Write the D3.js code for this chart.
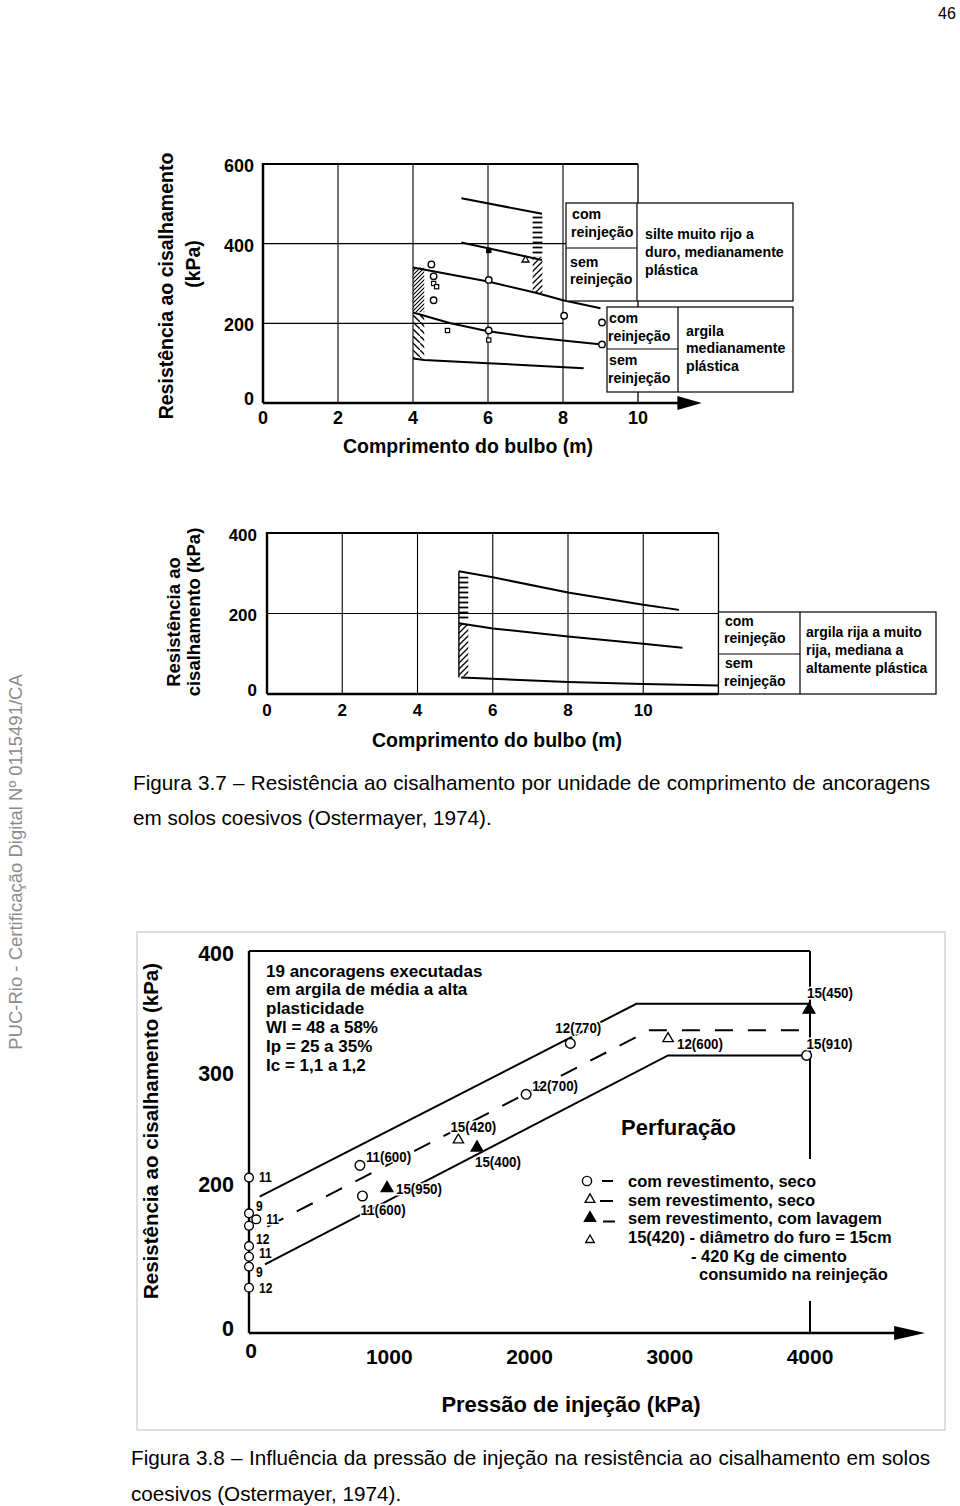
<!DOCTYPE html>
<html><head><meta charset="utf-8">
<script src="https://cdn.jsdelivr.net/npm/d3@7/dist/d3.min.js"></script>
<style>body{margin:0;background:#fff} svg{display:block;font-family:'Liberation Sans',Arial,Helvetica,sans-serif}</style>
</head><body><svg id="c" width="960" height="1506"></svg>
<script>
// ---------------- DATA ----------------
// Chart 1 (Figura 3.7 top)
const c1XTicks = [0,2,4,6,8,10];
const c1YTicks = [0,200,400,600];
const c1Curves = [
  [[5.29,514],[7.44,475]],
  [[5.29,403],[7.44,359]],
  [[4.0,340],[6,305],[7.3,276],[8,258],[9.0,238]],
  [[4.0,227],[5,200],[6,180],[7,167],[8,157],[9.04,147]],
  [[4.0,112],[4.3,108],[6,100],[8.55,87]]
];
const c1Hatches = [
  {x0:4.0,x1:4.3,y0:228,y1:340,kind:'dense'},
  {x0:4.0,x1:4.3,y0:112,y1:226,kind:'sparse'},
  {x0:7.19,x1:7.45,y0:368,y1:473,kind:'horiz'},
  {x0:7.19,x1:7.45,y0:276,y1:366,kind:'diag'}
];
const c1Points = [
  [4.49,348,'circle'],[4.55,318,'circle'],[4.55,300,'square'],[4.63,292,'square'],
  [4.55,258,'circle'],[4.92,182,'square'],[6.02,383,'filledSquare'],[7.0,359,'triangle'],
  [6.02,309,'circle'],[6.02,182,'circle'],[6.02,158,'square'],[8.03,219,'circle'],
  [9.04,202,'circle'],[9.04,147,'circle']
];
const rowLabels = [["com","reinjeção"],["sem","reinjeção"]];
const c1SoilA = ["silte muito rijo a","duro, medianamente","plástica"];
const c1SoilB = ["argila","medianamente","plástica"];
// Chart 2 (Figura 3.7 bottom)
const c2XTicks = [0,2,4,6,8,10];
const c2YTicks = [0,200,400];
const c2Curves = [
  [[5.1,305],[6,290],[8,252],[10,222],[10.95,209]],
  [[5.1,176],[6,163],[8,143],[10,125],[11.04,115]],
  [[5.16,41],[8,30],[10,25],[12,21]]
];
const c2Hatches = [
  {x0:5.1,x1:5.35,y0:184,y1:292,kind:'horiz'},
  {x0:5.1,x1:5.35,y0:44,y1:174,kind:'diag'}
];
const c2Soil = ["argila rija a muito","rija, mediana a","altamente plástica"];
// Chart 3 (Figura 3.8)
const c3XTicks = [0,1000,2000,3000,4000];
const c3YTicks = [0,200,300,400];
const c3Upper = [[76,180.5],[2762,356],[3993,356]];
const c3Dashed = [[131,141],[2857,334],[3976,334]];
const c3Lower = [[114,91],[2988,313],[3976,313]];
const c3Points = [
  {p:2291,r:323,sym:'circle',label:'12(770)',pos:'above'},
  {p:1976,r:279,sym:'circle',label:'12(700)',pos:'aboveRight'},
  {p:2988,r:327,sym:'triangle',label:'12(600)',pos:'right'},
  {p:3993,r:351,sym:'filledTriangle',label:'15(450)',pos:'aboveStart'},
  {p:3976,r:313,sym:'circle',label:'15(910)',pos:'aboveStart2'},
  {p:1493,r:238,sym:'triangle',label:'15(420)',pos:'aboveLeft'},
  {p:1626,r:231,sym:'filledTriangle',label:'15(400)',pos:'below'},
  {p:791,r:215,sym:'circle',label:'11(600)',pos:'aboveRight'},
  {p:809,r:181.5,sym:'circle',label:'11(600)',pos:'below'},
  {p:984,r:191.7,sym:'filledTriangle',label:'15(950)',pos:'rightMid'},
  {p:0,r:204,sym:'circle',label:'11',pos:'r'},
  {p:0,r:158.5,sym:'circle',label:'9',pos:'ur'},
  {p:52,r:150.6,sym:'circle',label:'11',pos:'r'},
  {p:0,r:142,sym:'circle',label:'',pos:'r'},
  {p:0,r:115,sym:'circle',label:'12',pos:'ur'},
  {p:0,r:101,sym:'circle',label:'11',pos:'rUp'},
  {p:0,r:88,sym:'circle',label:'9',pos:'dr'},
  {p:0,r:60,sym:'circle',label:'12',pos:'r'}
];
const c3Notes = ["19 ancoragens executadas","em argila de média a alta","plasticidade","Wl = 48 a 58%","Ip = 25 a 35%","Ic = 1,1 a 1,2"];
const c3LegendTitle = "Perfuração";
const c3Legend = [
  {sym:'circle',text:'com revestimento, seco'},
  {sym:'triangle',text:'sem revestimento, seco'},
  {sym:'filledTriangle',text:'sem revestimento, com lavagem'},
  {sym:'smallTriangle',text:'15(420) - diâmetro do furo = 15cm'}
];
const c3LegendMore = ["- 420 Kg de cimento","consumido na reinjeção"];
const caption1 = ["Figura 3.7 – Resistência ao cisalhamento por unidade de comprimento de ancoragens","em solos coesivos (Ostermayer, 1974)."];
const caption2 = ["Figura 3.8 – Influência da pressão de injeção na resistência ao cisalhamento em solos","coesivos (Ostermayer, 1974)."];
const watermark = "PUC-Rio - Certificação Digital Nº 0115491/CA";
const pageNumber = "46";

// ---------------- DRAW ----------------
const svg = d3.select('#c');
svg.append('rect').attr('width',960).attr('height',1506).attr('fill','#fff');
const defs = svg.append('defs');
function pat(id,w,h,d,sw){
  const p=defs.append('pattern').attr('id',id).attr('patternUnits','userSpaceOnUse').attr('width',w).attr('height',h);
  p.append('path').attr('d',d).attr('stroke','#000').attr('stroke-width',sw).attr('fill','none');
}
pat('dense',4,4,'M-1,1L1,-1M0,4L4,0M3,5L5,3',1.1);
pat('sparse',7,7,'M-1,-1L1,1M0,0L7,7M6,6L8,8',1.4);
pat('diag',6,6,'M-1,1L1,-1M0,6L6,0M5,7L7,5',1.3);
pat('horiz',12,5,'M0,2.5H12',1.8);

function T(parent,x,y,s,o={}){
  const t=parent.append('text').attr('x',x).attr('y',y).text(s)
    .attr('font-size',o.size||14).attr('font-weight',o.bold===false?'normal':'bold')
    .attr('text-anchor',o.anchor||'start').attr('dominant-baseline',o.base||'central')
    .attr('fill',o.fill||'#000');
  if(o.ls) t.attr('letter-spacing',o.ls);
  if(o.rot) t.attr('transform',`rotate(${o.rot},${x},${y})`);
  if(o.sx) t.attr('transform',`translate(${x},${y}) scale(${o.sx},1) translate(${-x},${-y})`);
  if(o.halo) t.attr('stroke','#fff').attr('stroke-width',o.halo).attr('paint-order','stroke').attr('stroke-linejoin','round');
  return t;
}
function L(parent,xa,ya,xb,yb,sw,extra){
  const l=parent.append('line').attr('x1',xa).attr('y1',ya).attr('x2',xb).attr('y2',yb).attr('stroke','#000').attr('stroke-width',sw||1);
  if(extra) l.attr('stroke-dasharray',extra);
  return l;
}
function sym(parent,cx,cy,kind,scale){
  const s=scale||1;
  if(kind==='circle') return parent.append('circle').attr('cx',cx).attr('cy',cy).attr('r',4.6*s).attr('fill','#fff').attr('stroke','#000').attr('stroke-width',1.4);
  if(kind==='square'||kind==='filledSquare') return parent.append('rect').attr('x',cx-3*s).attr('y',cy-3*s).attr('width',6*s).attr('height',6*s).attr('fill',kind==='square'?'#fff':'#000').attr('stroke','#000').attr('stroke-width',1.2);
  const sz = kind==='smallTriangle'?32:(kind==='filledTriangle'?55:42);
  return parent.append('path').attr('transform',`translate(${cx},${cy})`)
    .attr('d',d3.symbol().type(d3.symbolTriangle).size(sz*s*s)())
    .attr('fill',kind==='filledTriangle'?'#000':'#fff').attr('stroke','#000').attr('stroke-width',1.3);
}

// ===== Chart 1 =====
const x1=d3.scaleLinear().domain([0,10]).range([263,638]);
const y1=d3.scaleLinear().domain([0,600]).range([403,164]);
const g1=svg.append('g');
[2,4,6,8].forEach(v=>L(g1,x1(v),y1(600),x1(v),y1(0),1.1));
L(g1,x1(0),y1(400),x1(10),y1(400),1.1);
L(g1,x1(0),y1(200),x1(8),y1(200),1.1);
L(g1,x1(0),y1(600),x1(10),y1(600),2);
L(g1,x1(10),y1(600),x1(10),y1(0),1.3);
L(g1,x1(0),y1(600)-1,x1(0),y1(0),2.5);
L(g1,x1(0),y1(0),x1(11.2),y1(0),2.5);
g1.append('path').attr('d',`M${x1(11.05)},${y1(0)-7}L${x1(11.7)},${y1(0)}L${x1(11.05)},${y1(0)+7}Z`).attr('fill','#000');
c1Hatches.forEach(h=>g1.append('rect').attr('x',x1(h.x0)).attr('y',y1(h.y1)).attr('width',x1(h.x1)-x1(h.x0)).attr('height',y1(h.y0)-y1(h.y1)).attr('fill',`url(#${h.kind})`));
const line1=d3.line().x(d=>x1(d[0])).y(d=>y1(d[1]));
c1Curves.forEach(c=>g1.append('path').attr('d',line1(c)).attr('fill','none').attr('stroke','#000').attr('stroke-width',2));
c1Points.forEach(p=>sym(g1,x1(p[0]),y1(p[1]),p[2],0.7));
// boxes
function box(g,x0,y0,xm,ym,x2,y2){
  g.append('rect').attr('x',x0).attr('y',y0).attr('width',x2-x0).attr('height',y2-y0).attr('fill','#fff').attr('stroke','#000').attr('stroke-width',1.2);
  L(g,xm,y0,xm,y2,1.2); L(g,x0,ym,xm,ym,1.2);
}
box(g1,566,203,637,248,793,301);
T(g1,572,214,rowLabels[0][0],{size:14.2}); T(g1,571,232,rowLabels[0][1],{size:14.2});
T(g1,570,262,rowLabels[1][0],{size:14.2}); T(g1,570,279,rowLabels[1][1],{size:14.2});
c1SoilA.forEach((s,i)=>T(g1,645,234+i*18,s,{size:14.2}));
box(g1,607,307,678,349,793,392);
T(g1,609,318,rowLabels[0][0],{size:14.2}); T(g1,608,336,rowLabels[0][1],{size:14.2});
T(g1,609,360,rowLabels[1][0],{size:14.2}); T(g1,608,378,rowLabels[1][1],{size:14.2});
c1SoilB.forEach((s,i)=>T(g1,686,331+i*17.3,s,{size:14.2}));
// ticks
c1XTicks.forEach(v=>T(g1,x1(v),418,String(v),{size:18,anchor:'middle'}));
c1YTicks.forEach(v=>T(g1,254,y1(v)+(v===0?-4:2),String(v),{size:18,anchor:'end'}));
T(g1,468,446,"Comprimento do bulbo (m)",{size:19.5,anchor:'middle'});
T(g1,166,286,"Resistência ao cisalhamento",{size:19.5,anchor:'middle',rot:-90});
T(g1,193,264,"(kPa)",{size:19.5,anchor:'middle',rot:-90});

// ===== Chart 2 =====
const x2=d3.scaleLinear().domain([0,12]).range([267,718.5]);
const y2=d3.scaleLinear().domain([0,400]).range([694,533]);
const g2=svg.append('g');
[2,4,6,8,10].forEach(v=>L(g2,x2(v),y2(400),x2(v),y2(0),1.1));
L(g2,x2(0),y2(200),x2(12),y2(200),1.1);
L(g2,x2(0),y2(400),x2(12),y2(400),1.8);
L(g2,x2(12),y2(400),x2(12),y2(0),1.3);
L(g2,x2(0),y2(400)-1,x2(0),y2(0),2.4);
L(g2,x2(0),y2(0),x2(12),y2(0),2.4);
c2Hatches.forEach(h=>g2.append('rect').attr('x',x2(h.x0)).attr('y',y2(h.y1)).attr('width',x2(h.x1)-x2(h.x0)).attr('height',y2(h.y0)-y2(h.y1)).attr('fill',`url(#${h.kind})`));
L(g2,x2(5.1),y2(305),x2(5.1),y2(41),1.4);
const line2=d3.line().x(d=>x2(d[0])).y(d=>y2(d[1]));
c2Curves.forEach(c=>g2.append('path').attr('d',line2(c)).attr('fill','none').attr('stroke','#000').attr('stroke-width',2));
box(g2,718.5,612,800,654,936,694);
T(g2,725,621,rowLabels[0][0],{size:14}); T(g2,724,638,rowLabels[0][1],{size:14});
T(g2,725,663,rowLabels[1][0],{size:14}); T(g2,724,681,rowLabels[1][1],{size:14});
c2Soil.forEach((s,i)=>T(g2,806,632+i*18,s,{size:14}));
c2XTicks.forEach(v=>T(g2,x2(v),710,String(v),{size:17,anchor:'middle'}));
c2YTicks.forEach(v=>T(g2,257,y2(v)+(v===0?-4:2),String(v),{size:17,anchor:'end'}));
T(g2,497,740,"Comprimento do bulbo (m)",{size:19.5,anchor:'middle'});
T(g2,173,622,"Resistência ao",{size:18.5,anchor:'middle',rot:-90});
T(g2,193,612,"cisalhamento (kPa)",{size:18.5,anchor:'middle',rot:-90});

// ===== Captions, watermark, page number =====
function justify(t,w){const len=t.node().getComputedTextLength();const n=(t.text().match(/ /g)||[]).length;t.attr('word-spacing',(w-len)/n);}
const cg=svg.append('g');
justify(T(cg,133,790,caption1[0],{size:20.7,bold:false,base:'auto'}),797);
T(cg,133,825,caption1[1],{size:20.7,bold:false,base:'auto'});
justify(T(cg,131,1465,caption2[0],{size:20.7,bold:false,base:'auto'}),799);
T(cg,131,1501,caption2[1],{size:20.7,bold:false,base:'auto'});
T(cg,15,862,watermark,{size:18.5,bold:false,anchor:'middle',rot:-90,fill:'#8c8c8c'});
T(cg,947,13,pageNumber,{size:16,bold:false,anchor:'middle'});

// ===== Chart 3 =====
const x3=d3.scaleLinear().domain([0,4000]).range([249,810]);
const y3=d3.scaleLinear().domain([0,200,300,400]).range([1333,1182,1071,951]);
const g3=svg.append('g');
g3.append('rect').attr('x',137).attr('y',932).attr('width',808).attr('height',498).attr('fill','#fff').attr('stroke','#d4d4d4').attr('stroke-width',1.5);
L(g3,x3(0),y3(400),x3(4000),y3(400),2);
L(g3,x3(4000),y3(400),x3(4000),y3(0),2);
L(g3,x3(0),y3(400),x3(0),y3(0),2.4);
L(g3,x3(0),y3(0),x3(4650),y3(0),2.4);
g3.append('path').attr('d',`M${x3(4600)},${y3(0)-7}L${x3(4820)},${y3(0)}L${x3(4600)},${y3(0)+7}Z`).attr('fill','#000');
const line3=d3.line().x(d=>x3(d[0])).y(d=>y3(d[1]));
g3.append('path').attr('d',line3(c3Upper)).attr('fill','none').attr('stroke','#000').attr('stroke-width',2);
g3.append('path').attr('d',line3(c3Lower)).attr('fill','none').attr('stroke','#000').attr('stroke-width',2);
g3.append('path').attr('d',line3(c3Dashed)).attr('fill','none').attr('stroke','#000').attr('stroke-width',2).attr('stroke-dasharray','18,15');
// notes
c3Notes.forEach((s,i)=>T(g3,266,971+i*18.9,s,{size:17}));
// legend (white background hides the 4000 line)
g3.append('rect').attr('x',575).attr('y',1159).attr('width',335).attr('height',142).attr('fill','#fff');
T(g3,621,1127,c3LegendTitle,{size:22,halo:0});
const legY=[1181,1199.5,1218,1237];
const dashSpec=[[602,613,0],[600,613,1.5],[603,615,3.5]];
c3Legend.forEach((d,i)=>{
  sym(g3,d.sym==='circle'?587:590,legY[i]+(d.sym==='smallTriangle'?3:0),d.sym,1);
  if(i<3) L(g3,dashSpec[i][0],legY[i]+dashSpec[i][2],dashSpec[i][1],legY[i]+dashSpec[i][2],2);
  T(g3,628,legY[i],d.text,{size:16.5});
});
T(g3,691,1255.5,c3LegendMore[0],{size:16.5});
T(g3,699,1274,c3LegendMore[1],{size:16.5});
// points + labels
const posMap={
  above:{a:'middle',dx:8,dy:-16}, aboveRight:{a:'start',dx:6,dy:-9}, right:{a:'start',dx:9,dy:5},
  aboveStart:{a:'start',dx:-2,dy:-17}, aboveStart2:{a:'start',dx:0,dy:-12}, aboveLeft:{a:'start',dx:-8,dy:-13},
  below:{a:'start',dx:-2,dy:14}, rightMid:{a:'start',dx:9,dy:0},
  r:{a:'start',dx:10,dy:0}, rUp:{a:'start',dx:10,dy:-4}, ur:{a:'start',dx:7,dy:-7}, dr:{a:'start',dx:7,dy:6}
};
c3Points.forEach(d=>{
  const cx=x3(d.p), cy=y3(d.r);
  sym(g3,cx,cy,d.sym,d.p<100?0.95:1.05);
  if(d.label){
    const m=posMap[d.pos];
    const small=d.label.length<=2;
    T(g3,cx+m.dx,cy+m.dy,d.label,{size:small?14:15.5,anchor:m.a,sx:0.86,halo:3});
  }
});
// ticks
c3XTicks.forEach(v=>T(g3,x3(v)+(v===0?2:0),v===0?1350:1356,String(v),{size:21,anchor:'middle'}));
c3YTicks.forEach(v=>T(g3,234,y3(v)+(v===0?-4:3),String(v),{size:21.5,anchor:'end'}));
T(g3,571,1404,"Pressão de injeção (kPa)",{size:22,anchor:'middle'});
T(g3,150,1131,"Resistência ao cisalhamento (kPa)",{size:20.5,anchor:'middle',rot:-90});
</script></body></html>
